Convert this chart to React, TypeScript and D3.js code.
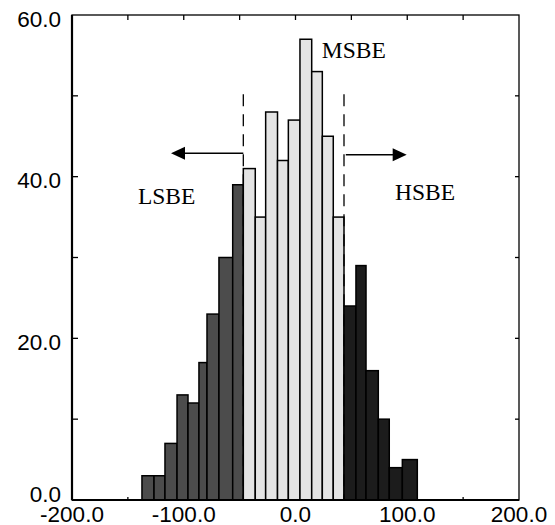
import React, { useEffect, useRef } from "react";
import * as d3 from "d3";

// bin edges (x units) and counts
const binEdges = [
  -144.5, -137.4, -126.6, -116.8, -106, -96.2, -86.4, -79.2, -68.5, -56.2,
  -46.7, -36, -26.7, -16.1, -6.4, 4, 14.5, 24, 33.8, 43.4, 54.1, 63.1, 74.1,
  83.9, 95.6, 109, 123.3,
];
const counts = [
  0, 3, 3, 7, 13, 12, 17, 23, 30, 39, 41, 35, 48, 42, 47, 57, 53, 45, 35, 24,
  29, 16, 10, 4, 5, 0,
];
// group of each bin: L = LSBE, M = MSBE, H = HSBE
const groups = [
  "L", "L", "L", "L", "L", "L", "L", "L", "L", "L",
  "M", "M", "M", "M", "M", "M", "M", "M", "M",
  "H", "H", "H", "H", "H", "H", "H",
];
const xTickLabels = [-200, -100, 0, 100, 200];
const yTickLabels = [0, 20, 40, 60];
const cutoffs = [-46.7, 43.4];
const labels = [
  { text: "LSBE", x: -141, y: 36.6 },
  { text: "MSBE", x: 23.5, y: 54.7 },
  { text: "HSBE", x: 89, y: 37.1 },
];

const width = 555;
const height = 525;
const margin = { top: 15, right: 36, bottom: 25, left: 72 };

const colors: Record<string, string> = {
  L: "#4c4c4c",
  M: "#e4e4e4",
  H: "#1c1c1c",
};

const App = () => {
  const ref = useRef<SVGSVGElement>(null);

  useEffect(() => {
    const svg = d3.select(ref.current);
    svg.selectAll("*").remove();

    const x = d3
      .scaleLinear()
      .domain([-200, 200])
      .range([margin.left, width - margin.right]);
    const y = d3
      .scaleLinear()
      .domain([0, 60])
      .range([height - margin.bottom, margin.top]);

    const x0 = x(-200),
      x1 = x(200),
      y0 = y(0),
      y1 = y(60);

    // inner ticks
    const tickG = svg.append("g").attr("stroke", "#000").attr("stroke-width", 1.3);
    d3.range(-150, 200, 50).forEach((t) => {
      tickG.append("line").attr("x1", x(t)).attr("x2", x(t)).attr("y1", y1).attr("y2", y1 + 5);
      tickG.append("line").attr("x1", x(t)).attr("x2", x(t)).attr("y1", y0).attr("y2", y0 - 3);
    });
    d3.range(10, 60, 10).forEach((t) => {
      tickG.append("line").attr("x1", x0).attr("x2", x0 + 6).attr("y1", y(t)).attr("y2", y(t));
      tickG.append("line").attr("x1", x1).attr("x2", x1 - 4).attr("y1", y(t)).attr("y2", y(t));
    });

    // bars
    const bins = counts.map((c, i) => ({
      a: binEdges[i],
      b: binEdges[i + 1],
      c,
      g: groups[i],
    }));
    svg
      .append("g")
      .selectAll("rect")
      .data(bins)
      .enter()
      .append("rect")
      .attr("x", (d) => x(d.a))
      .attr("width", (d) => x(d.b) - x(d.a))
      .attr("y", (d) => y(d.c))
      .attr("height", (d) => y0 - y(d.c))
      .attr("fill", (d) => colors[d.g])
      .attr("stroke", "#000")
      .attr("stroke-width", 1.5);

    // frame
    svg
      .append("rect")
      .attr("x", x0)
      .attr("y", y1)
      .attr("width", x1 - x0)
      .attr("height", y0 - y1)
      .attr("fill", "none")
      .attr("stroke", "#000")
      .attr("stroke-width", 1.3);
    svg.append("line").attr("x1", x0).attr("x2", x0).attr("y1", y1).attr("y2", y0)
      .attr("stroke", "#000").attr("stroke-width", 2.2);
    svg.append("line").attr("x1", x0).attr("x2", x1).attr("y1", y0).attr("y2", y0)
      .attr("stroke", "#000").attr("stroke-width", 2.2);

    // dashed cut-off lines
    svg
      .append("g")
      .selectAll("line")
      .data(cutoffs)
      .enter()
      .append("line")
      .attr("x1", (d) => x(d))
      .attr("x2", (d) => x(d))
      .attr("y1", y(50.2))
      .attr("y2", y0)
      .attr("stroke", "#000")
      .attr("stroke-width", 1.3)
      .attr("stroke-dasharray", "12,8");

    // arrows
    const arrows = [
      { from: -46.7, to: -111.4, v: 42.9 },
      { from: 45, to: 99.5, v: 42.7 },
    ];
    arrows.forEach((a) => {
      const dir = a.to > a.from ? 1 : -1;
      const tx = x(a.to),
        ty = y(a.v);
      svg.append("line")
        .attr("x1", x(a.from)).attr("x2", tx - dir * 12)
        .attr("y1", ty).attr("y2", ty)
        .attr("stroke", "#000").attr("stroke-width", 1.5);
      svg.append("path")
        .attr("d", `M${tx},${ty}L${tx - dir * 14},${ty - 6.5}L${tx - dir * 14},${ty + 6.5}Z`)
        .attr("fill", "#000");
    });

    // group labels
    svg
      .append("g")
      .selectAll("text")
      .data(labels)
      .enter()
      .append("text")
      .attr("x", (d) => x(d.x))
      .attr("y", (d) => y(d.y))
      .attr("font-family", "'Liberation Serif', 'Times New Roman', serif")
      .attr("font-size", 23.5)
      .attr("fill", "#000")
      .text((d) => d.text);

    // tick labels
    const font = "'Liberation Sans', Arial, sans-serif";
    svg
      .append("g")
      .selectAll("text")
      .data(yTickLabels)
      .enter()
      .append("text")
      .attr("x", x0 - 11)
      .attr("y", (d) => y(d) + (d === 0 ? -5.5 : 4))
      .attr("text-anchor", "end")
      .attr("dominant-baseline", "central")
      .attr("font-family", font)
      .attr("font-size", 22.5)
      .text((d) => d.toFixed(1));
    svg
      .append("g")
      .selectAll("text")
      .data(xTickLabels)
      .enter()
      .append("text")
      .attr("x", (d) => x(d))
      .attr("y", y0 + 21.5)
      .attr("text-anchor", "middle")
      .attr("font-family", font)
      .attr("font-size", 22.5)
      .text((d) => d.toFixed(1));
  }, []);

  return (
    <svg
      ref={ref}
      width={width}
      height={height}
      style={{ position: "absolute", left: 0, top: 0, background: "#fff" }}
    ></svg>
  );
};

export default App;
